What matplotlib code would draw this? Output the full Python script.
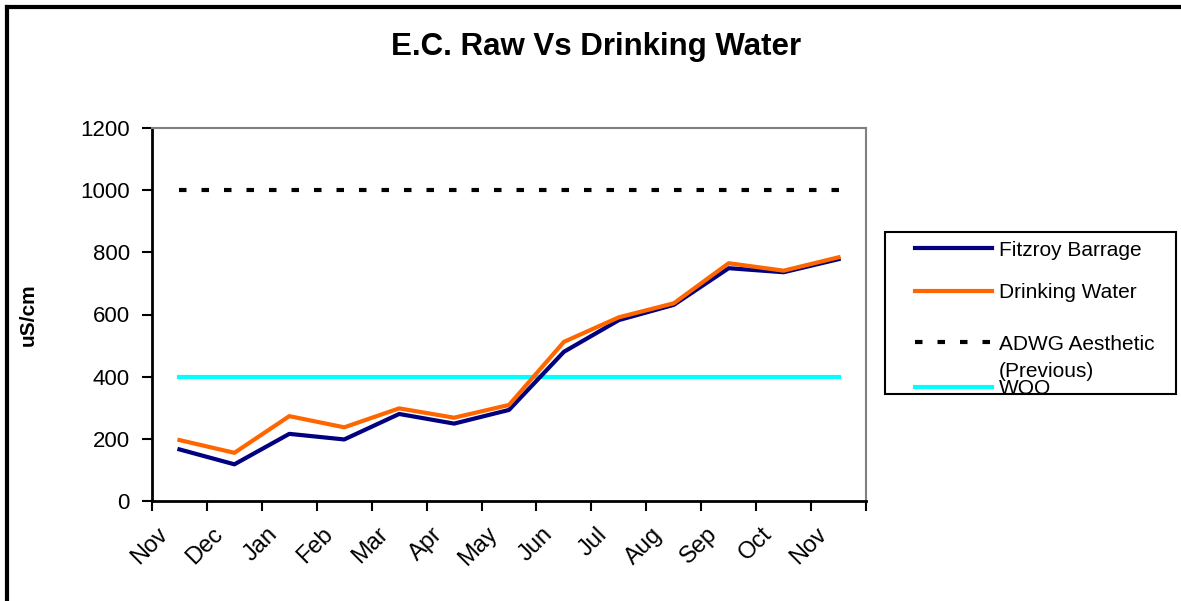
import numpy as np
import matplotlib
matplotlib.use('Agg')
import matplotlib.pyplot as plt
import matplotlib.transforms as mtransforms
from matplotlib.lines import Line2D
from matplotlib.patches import Rectangle

plt.rcParams['font.family'] = ['Liberation Sans', 'DejaVu Sans']

# data (uS/cm)
months = ['Nov', 'Dec', 'Jan', 'Feb', 'Mar', 'Apr', 'May',
          'Jun', 'Jul', 'Aug', 'Sep', 'Oct', 'Nov']
fitzroy = [166, 118, 216, 198, 280, 249, 293, 480, 582, 631, 749, 736, 778]
drinking = [196, 155, 273, 237, 298, 268, 309, 512, 591, 636, 765, 741, 784]
adwg_limit = 1000
wqo_limit = 400

W, H = 1181, 601


def fx(px):
    return px / W


def fy(py):
    return 1 - py / H


fig = plt.figure(figsize=(W / 100, H / 100), dpi=100)
ax = fig.add_axes([fx(152), fy(501), fx(714), 373 / H])

x = np.arange(len(months)) + 0.5
dash = (0, (1.8, 3.6))
l1, = ax.plot(x, fitzroy, color='#000080', lw=3, zorder=3)
l2, = ax.plot(x, drinking, color='#ff6600', lw=3, zorder=4)
l3, = ax.plot(x, [adwg_limit] * len(x), color='black', lw=3, ls=dash, zorder=2)
l4, = ax.plot(x, [wqo_limit] * len(x), color='#00ffff', lw=3, zorder=2)

ax.set_xlim(0, len(months))
ax.set_ylim(0, 1200)
ax.set_yticks(range(0, 1201, 200))
ax.set_xticks(np.arange(len(months) + 1))
ax.set_xticklabels(months + [''], rotation=45, ha='right', va='top',
                   rotation_mode='anchor', fontsize=17)
ax.tick_params(axis='x', length=7, width=1.5, pad=9, direction='out')
ax.tick_params(axis='y', length=7, width=1.5, pad=9, labelsize=16, direction='out')
# shift month labels a little to the right, like Excel does
offset = mtransforms.ScaledTranslation(5 / 100, 0, fig.dpi_scale_trans)
for t in ax.get_xticklabels():
    t.set_transform(t.get_transform() + offset)

ax.spines['left'].set_linewidth(2)
ax.spines['bottom'].set_linewidth(2)
for side in ['top', 'right']:
    ax.spines[side].set_color('#808080')
    ax.spines[side].set_linewidth(1.5)

ax.set_ylabel('uS/cm', fontsize=15, fontweight='bold')
ax.yaxis.set_label_coords((38 - 152) / 714, 0.5)
fig.text(fx(596), fy(47), 'E.C. Raw Vs Drinking Water',
         fontsize=22.5, fontweight='bold', ha='center', va='center')

# legend drawn by hand to keep the Excel look (WQO is clipped by the frame)
box = Rectangle((fx(885), fy(394)), fx(1176 - 885), (394 - 232) / H,
                transform=fig.transFigure, fill=False, edgecolor='black', lw=1.5)
fig.add_artist(box)
entries = [(l1, 'Fitzroy Barrage', 248), (l2, 'Drinking Water', 291),
           (l3, 'ADWG Aesthetic', 342), (l4, 'WQO', 387)]
for line, label, py in entries:
    h = Line2D([fx(915), fx(992)], [fy(py)] * 2, transform=fig.transFigure,
               color=line.get_color(), lw=3, ls=line.get_linestyle())
    if line is l3:
        h.set_linestyle(dash)
    t = fig.text(fx(999), fy(py + 7.5), label, fontsize=15, va='baseline')
    if line is l4:
        h.set_clip_path(box)
        t.set_clip_path(box)
    fig.add_artist(h)
fig.text(fx(999), fy(377), '(Previous)', fontsize=15, va='baseline')

# outer chart border (only top and left edges show)
fig.add_artist(Line2D([fx(6.5), 1], [fy(6.5)] * 2, color='black', lw=3))
fig.add_artist(Line2D([fx(6.5)] * 2, [0, fy(6.5)], color='black', lw=3))

fig.savefig('out.png', dpi=100)
